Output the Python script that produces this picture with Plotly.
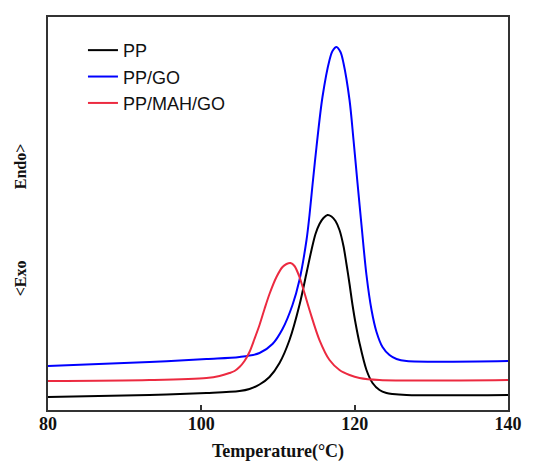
import plotly.graph_objects as go

# Temperature (°C) and heat-flow (arbitrary units, Endo up)
pp_t = [80.0, 93.24, 100.67, 104.98, 106.28, 107.59, 108.89, 110.20, 111.50, 112.80,
        113.72, 114.37, 114.89, 115.41, 115.93, 116.46, 116.98, 117.50, 118.02, 118.54,
        118.93, 119.33, 119.72, 120.11, 120.63, 121.54, 122.33, 123.24, 124.15, 124.93,
        126.76, 140.0]
pp_v = [3.31, 3.82, 4.33, 4.83, 5.34, 6.49, 8.40, 11.96, 17.81, 26.72,
        34.86, 40.71, 44.78, 47.33, 48.85, 49.62, 49.24, 48.09, 45.80, 41.73,
        37.15, 32.06, 26.72, 22.14, 17.05, 10.18, 6.87, 5.09, 4.33, 4.07,
        3.82, 3.82]

ppgo_t = [80.0, 93.24, 100.67, 104.98, 107.59, 109.28, 110.59, 111.89, 112.80, 113.72,
          114.11, 114.50, 115.02, 115.80, 116.72, 117.11, 117.63, 118.15, 118.54, 119.33,
          119.85, 120.37, 120.89, 121.54, 122.20, 122.85, 123.63, 124.54, 125.46, 126.76,
          140.0]
ppgo_v = [11.20, 12.21, 12.98, 13.49, 14.50, 16.79, 20.61, 26.72, 33.08, 43.26,
          49.62, 57.25, 66.92, 79.64, 89.06, 91.35, 92.37, 91.09, 88.30, 78.88,
          68.70, 57.76, 47.07, 34.35, 25.45, 19.85, 16.03, 13.99, 12.98, 12.47,
          12.47]

ppmah_t = [80.0, 93.24, 100.67, 102.37, 103.67, 104.33, 104.98, 105.63, 106.28, 106.93,
           107.59, 108.24, 108.89, 109.80, 110.59, 111.11, 111.63, 112.15, 112.80, 114.11,
           115.41, 116.72, 118.02, 119.33, 120.63, 123.24, 140.0]
ppmah_v = [7.38, 7.63, 8.14, 8.65, 9.41, 9.92, 10.94, 12.47, 14.76, 18.07,
           21.63, 25.70, 29.52, 33.84, 36.39, 37.15, 37.40, 36.64, 33.84, 25.45,
           17.81, 12.72, 10.18, 8.91, 8.14, 7.63, 7.63]

series_names = ["PP", "PP/GO", "PP/MAH/GO"]
x_ticks = [80, 100, 120, 140]
x_title = "Temperature(°C)"
y_labels = ["Endo>", "<Exo"]

colors = ["#000000", "#0000ff", "#ec2a40"]

fig = go.Figure()
for name, t, v, c in zip(series_names, [pp_t, ppgo_t, ppmah_t],
                         [pp_v, ppgo_v, ppmah_v], colors):
    fig.add_trace(go.Scatter(x=t, y=v, mode="lines", name=name,
                             line=dict(color=c, width=2, shape="spline", smoothing=0.9)))

serif = "Liberation Serif, Times New Roman, serif"
# page body has an 8px default margin, so the figure is 8px smaller and margins shifted
fig.update_layout(
    width=525, height=454,
    margin=dict(l=40, r=25, t=9, b=52),
    paper_bgcolor="white", plot_bgcolor="white",
    showlegend=True,
    legend=dict(x=0.076, y=0.962, xanchor="left", yanchor="top",
                bgcolor="rgba(0,0,0,0)",
                font=dict(family="Liberation Sans, Arial, sans-serif", size=18, color="#111"),
                tracegroupgap=0),
    xaxis=dict(range=[80, 140], tickvals=x_ticks, ticktext=[str(v) for v in x_ticks],
               ticks="inside", ticklen=5, tickwidth=1.5, tickcolor="#333",
               showline=True, linecolor="#333", linewidth=1.5, mirror=True,
               showgrid=False, zeroline=False, automargin=False,
               ticklabelstandoff=-3,
               tickfont=dict(family=serif, size=18, color="#111", weight="bold"),
               title=dict(text=x_title, standoff=13,
                          font=dict(family=serif, size=18, color="#111", weight="bold"))),
    yaxis=dict(range=[0, 100], showticklabels=False, ticks="",
               showline=True, linecolor="#333", linewidth=1.5, mirror=True,
               showgrid=False, zeroline=False, automargin=False),
)

fig.add_annotation(text=y_labels[0], xref="paper", yref="paper", x=-0.061, y=0.62,
                   xanchor="center", yanchor="middle",
                   textangle=-90, showarrow=False,
                   font=dict(family=serif, size=16, color="#111", weight="bold"))
fig.add_annotation(text=y_labels[1], xref="paper", yref="paper", x=-0.061, y=0.335,
                   xanchor="center", yanchor="middle",
                   textangle=-90, showarrow=False,
                   font=dict(family=serif, size=16, color="#111", weight="bold"))

fig.write_html("out.html")
